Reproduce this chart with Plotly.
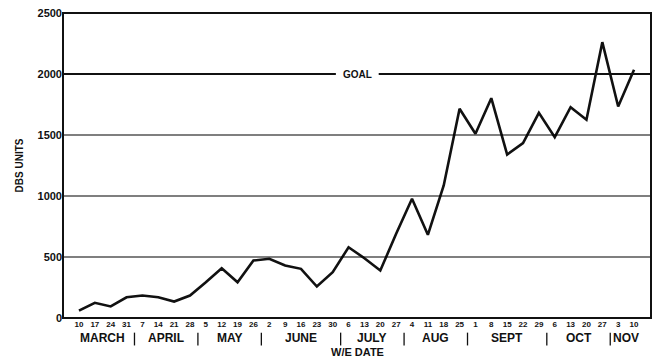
import plotly.graph_objects as go

# Week-ending dates and weekly DBS unit totals
week_labels = ["10", "17", "24", "31", "7", "14", "21", "28", "5", "12", "19", "26",
               "2", "9", "16", "23", "30", "6", "13", "20", "27", "4", "11", "18", "25",
               "1", "8", "15", "22", "29", "6", "13", "20", "27", "3", "10"]
dbs_units = [60, 125, 95, 170, 184, 170, 135, 184, 293, 408, 293, 471,
             485, 430, 403, 258, 375, 580, 490, 389, 690, 977, 682, 1086, 1715,
             1510, 1802, 1340, 1433, 1682, 1482, 1728, 1625, 2261, 1734, 2034]

# Months with the index of their first and last week
months = ["MARCH", "APRIL", "MAY", "JUNE", "JULY", "AUG", "SEPT", "OCT", "NOV"]
month_first = [0, 4, 8, 12, 17, 21, 25, 30, 34]
month_last = [3, 7, 11, 16, 20, 24, 29, 33, 35]

goal_value = 2000
y_ticks = [0, 500, 1000, 1500, 2000, 2500]

FONT = "Liberation Sans"
INK = "#111111"

x_idx = list(range(len(week_labels)))

fig = go.Figure()
fig.add_trace(go.Scatter(x=x_idx, y=dbs_units, mode="lines",
                         line=dict(color=INK, width=2.6), hoverinfo="skip",
                         showlegend=False))

shapes = []
# Horizontal rule lines at 500 / 1000 / 1500
for v in [500, 1000, 1500]:
    shapes.append(dict(type="line", xref="paper", yref="y", x0=0, x1=1, y0=v, y1=v,
                       line=dict(color="#000000", width=1.2)))
# Goal line, broken around its label
shapes.append(dict(type="line", xref="x", yref="y", x0=-1.007, x1=16.2,
                   y0=goal_value, y1=goal_value, line=dict(color=INK, width=2)))
shapes.append(dict(type="line", xref="x", yref="y", x0=18.9, x1=36.07,
                   y0=goal_value, y1=goal_value, line=dict(color=INK, width=2)))
# Frame
shapes.append(dict(type="rect", xref="paper", yref="paper", x0=0, x1=1, y0=0, y1=1,
                   line=dict(color=INK, width=2)))

annotations = [dict(x=17.55, y=goal_value, xref="x", yref="y", text="GOAL",
                    showarrow=False, font=dict(family=FONT, size=10, color=INK, weight=700),
                    bgcolor="white")]

# Month names and separators below the week ticks
for name, a, b in zip(months, month_first, month_last):
    annotations.append(dict(x=(a + b) / 2, y=-0.066, xref="x", yref="paper", text=name,
                            showarrow=False, yanchor="middle",
                            font=dict(family=FONT, size=12, color=INK, weight=700)))
for a in month_first[1:]:
    shapes.append(dict(type="line", xref="x", yref="paper", x0=a - 0.5, x1=a - 0.5,
                       y0=-0.048, y1=-0.09, line=dict(color=INK, width=1.3)))

annotations.append(dict(x=0.5, y=-0.112, xref="paper", yref="paper", text="W/E DATE",
                        showarrow=False, yanchor="middle", xanchor="center",
                        font=dict(family=FONT, size=11, color=INK, weight=700)))

fig.update_layout(
    width=655, height=360,
    margin=dict(l=63, r=4, t=13, b=42),
    paper_bgcolor="white", plot_bgcolor="white",
    shapes=shapes, annotations=annotations,
    xaxis=dict(range=[-1.007, 36.07], tickmode="array", tickvals=x_idx,
               ticktext=week_labels, showgrid=False, zeroline=False, ticks="",
               tickfont=dict(family=FONT, size=8, color=INK, weight=700),
               showline=False, fixedrange=True),
    yaxis=dict(range=[0, 2500], tickmode="array", tickvals=y_ticks,
               showgrid=False, zeroline=False, ticks="",
               tickfont=dict(family=FONT, size=11, color=INK, weight=700),
               title=dict(text="DBS UNITS", standoff=12,
                          font=dict(family=FONT, size=10, color=INK, weight=700)),
               showline=False, fixedrange=True),
)

fig.write_html("out.html")
